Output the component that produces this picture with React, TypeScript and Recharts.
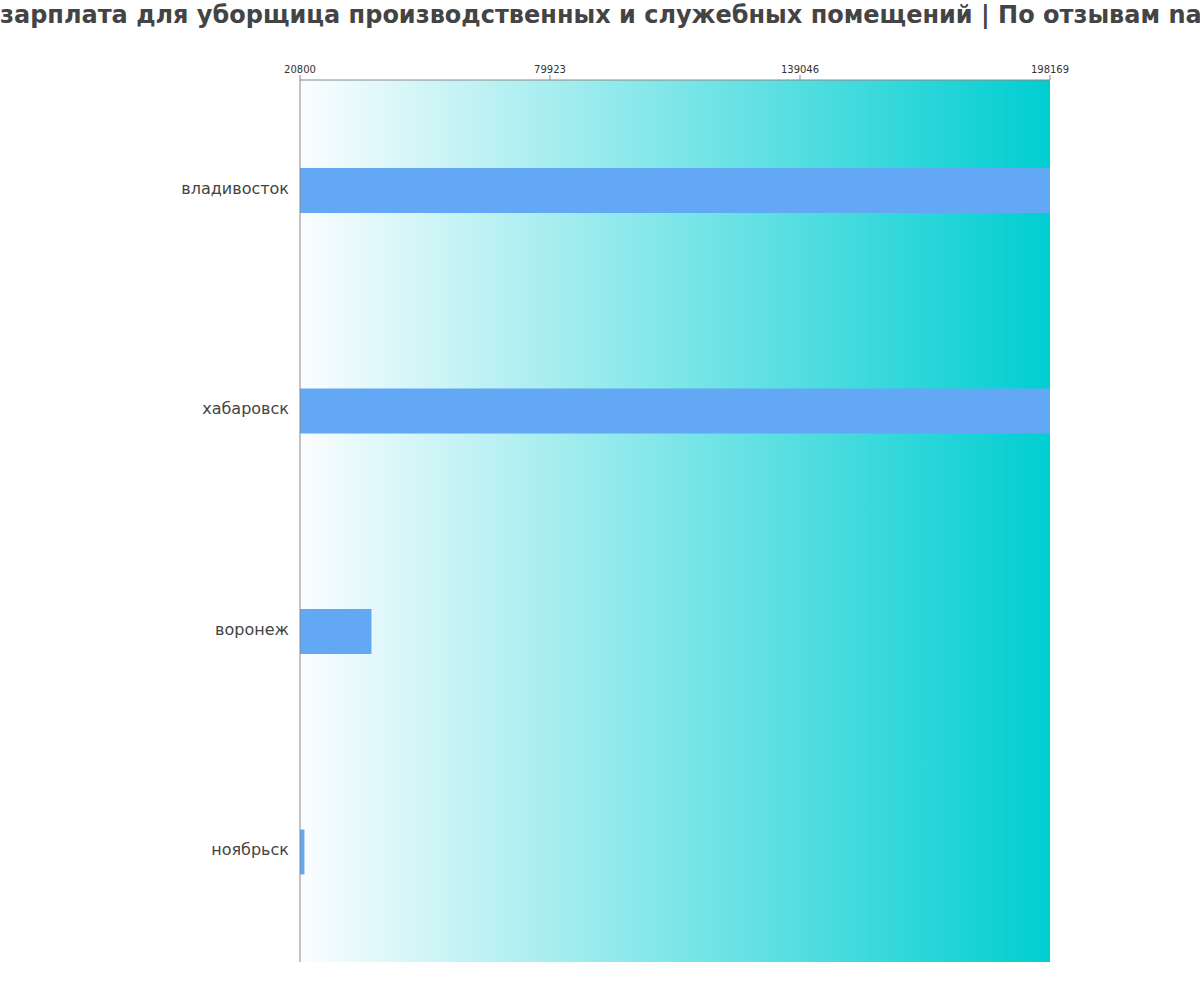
import { BarChart, Bar, XAxis, YAxis, CartesianGrid } from "recharts";

const cities = ["владивосток", "хабаровск", "воронеж", "ноябрьск"];
const salaries = [198169, 198169, 37700, 21850];
const axisTicks = [20800, 79923, 139046, 198169];

const data = cities.map((city, i) => ({ city, salary: salaries[i] }));

const title =
  "зарплата для уборщица производственных и служебных помещений | По отзывам na";

export default function App() {
  return (
    <div style={{ position: "absolute", left: 0, top: 0, width: 1200, height: 1000, background: "#fff" }}>
      <div
        style={{
          position: "absolute",
          left: 0,
          top: 0,
          width: 1200,
          overflow: "hidden",
          whiteSpace: "nowrap",
          fontFamily: "DejaVu Sans",
          fontWeight: "bold",
          fontSize: 24,
          lineHeight: "30px",
          color: "#444",
        }}
      >
        {title}
      </div>
      <BarChart
        width={1200}
        height={1000}
        data={data}
        layout="vertical"
        margin={{ top: 50, right: 150, left: 0, bottom: 38 }}
        style={{ fontFamily: "DejaVu Sans" }}
      >
        <defs>
          <linearGradient id="bg" x1="0" y1="0" x2="1" y2="0">
            <stop offset="0%" stopColor="#fbfdff" />
            <stop offset="100%" stopColor="#00ced1" />
          </linearGradient>
        </defs>
        <CartesianGrid horizontal={false} vertical={false} fill="url(#bg)" fillOpacity={1} />
        <XAxis
          type="number"
          orientation="top"
          domain={[20800, 198169]}
          ticks={axisTicks}
          allowDataOverflow
          height={30}
          stroke="#888"
          tick={{ fontSize: 10, fill: "#333" }}
          tickSize={5}
          tickMargin={2}
        />
        <YAxis
          type="category"
          dataKey="city"
          width={300}
          stroke="#888"
          tickLine={false}
          tickMargin={10}
          tick={{ fontSize: 16, fill: "#444", dy: -2, dx: 5 }}
        />
        <Bar dataKey="salary" fill="#62a8f4" barSize={45} isAnimationActive={false} />
      </BarChart>
    </div>
  );
}
